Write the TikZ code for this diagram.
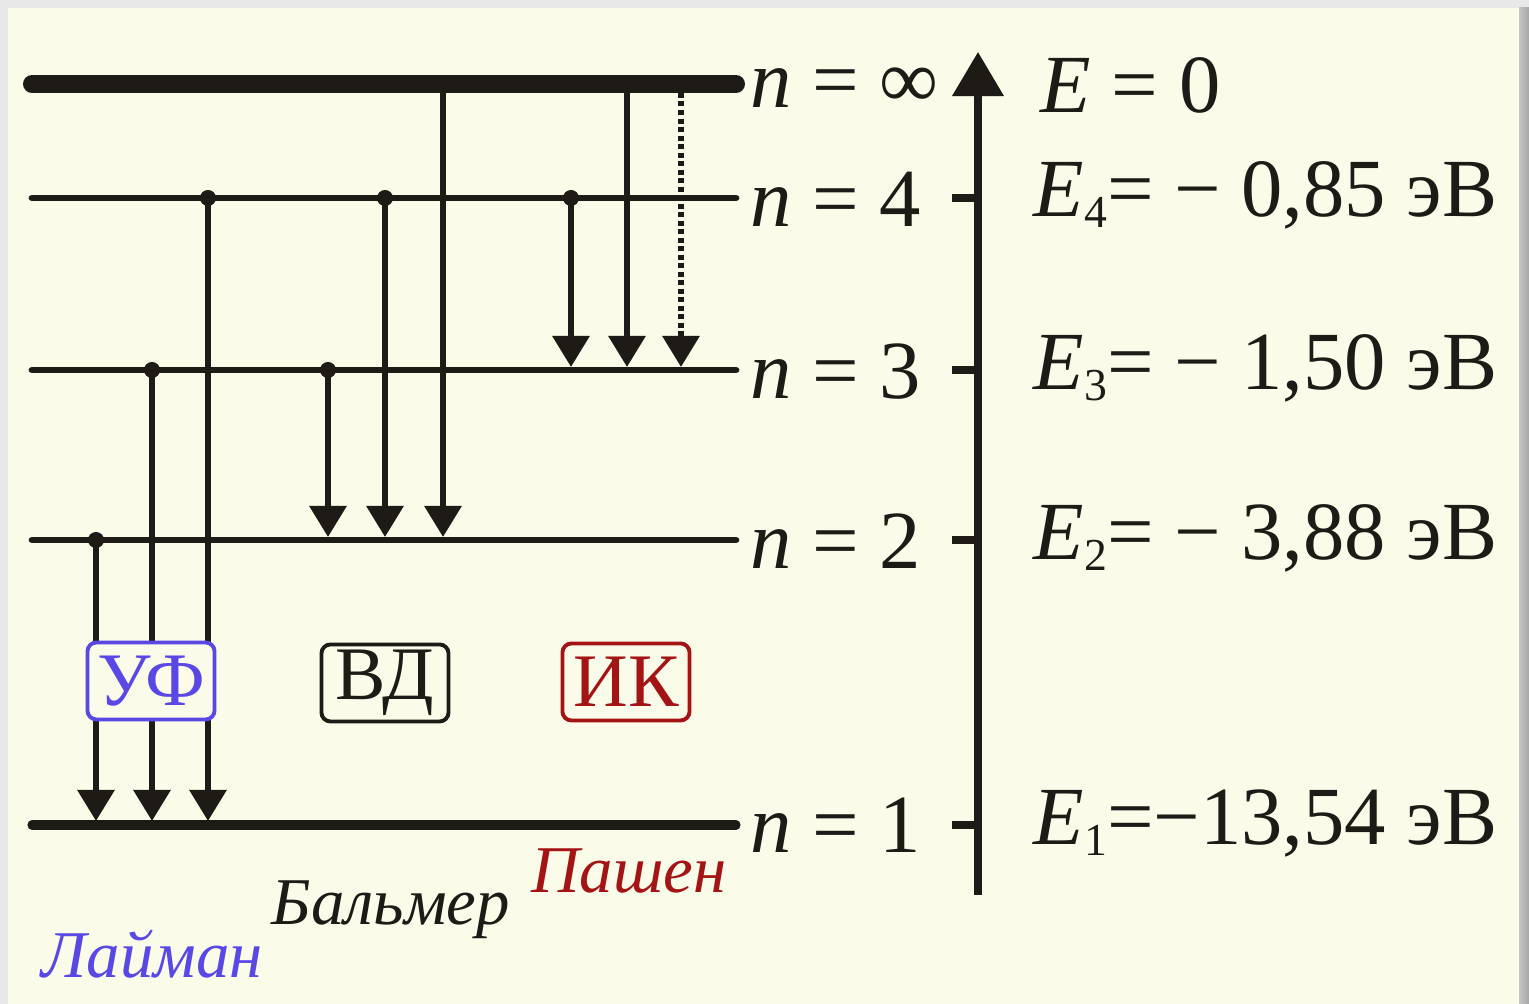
\documentclass[tikz,border=0pt]{standalone}
\usepackage{fontspec}
\setmainfont{Liberation Serif}
\usetikzlibrary{arrows.meta}
\definecolor{bg}{RGB}{250,251,233}
\definecolor{framegray}{RGB}{232,232,232}
\definecolor{ink}{RGB}{30,26,22}
\definecolor{uvblue}{RGB}{90,72,230}
\definecolor{irred}{RGB}{165,20,20}
\newcommand{\lsub}[1]{\raisebox{-0.13em}{\fontsize{13}{13}\selectfont #1}}
\begin{document}
\begin{tikzpicture}[x=0.01cm,y=-0.01cm,
  lvl/.style={line width=1.9pt,line cap=round,draw=ink},
  trans/.style={line width=1.75pt,draw=ink,-{Triangle[width=0.36cm,length=0.31cm,fill=ink]}},
  dotstart/.style={fill=ink},
  lbl/.style={font=\fontsize{23.5}{28}\selectfont,anchor=base west,inner sep=0pt,text=ink},
  series/.style={font=\fontsize{19}{22}\selectfont\itshape,anchor=base west,inner sep=0pt},
  bandbox/.style={draw,line width=1.1pt,rounded corners=0.09cm,fill=bg,minimum width=1.27cm,minimum height=0.77cm,inner sep=0pt,font=\fontsize{21.5}{24}\selectfont},
]
\fill[framegray] (0,0) rectangle (1529,1004);
\fill[bg] (8,8) rectangle (1519,1004);
\shade[left color=gray!45,right color=gray!70] (1519,8) rectangle (1529,1004);
\useasboundingbox (0,0) rectangle (1529,1004);

% levels
\coordinate (Linf-l) at (32,84);  \coordinate (Linf-r) at (736,84);
\coordinate (L4-l) at (32,198);   \coordinate (L4-r) at (736,198);
\coordinate (L3-l) at (32,370);   \coordinate (L3-r) at (736,370);
\coordinate (L2-l) at (32,540);   \coordinate (L2-r) at (736,540);
\coordinate (L1-l) at (32,825);   \coordinate (L1-r) at (736,825);
\draw[lvl,line width=5.1pt] (Linf-l) -- (Linf-r);
\draw[lvl] (L4-l) -- (L4-r);
\draw[lvl] (L3-l) -- (L3-r);
\draw[lvl] (L2-l) -- (L2-r);
\draw[lvl,line width=2.6pt] (L1-l) -- (L1-r);

% Lyman
\coordinate (ly2) at (96,540);  \coordinate (ly2e) at (96,821);
\coordinate (ly3) at (152,370); \coordinate (ly3e) at (152,821);
\coordinate (ly4) at (208,198); \coordinate (ly4e) at (208,821);
% Balmer
\coordinate (ba3) at (328,370); \coordinate (ba3e) at (328,537);
\coordinate (ba4) at (385,198); \coordinate (ba4e) at (385,537);
\coordinate (bai) at (443,84);  \coordinate (baie) at (443,537);
% Paschen
\coordinate (pa4) at (571,198); \coordinate (pa4e) at (571,367);
\coordinate (pai) at (627,84);  \coordinate (paie) at (627,367);
\coordinate (pad) at (681,93);  \coordinate (pade) at (681,367);

\draw[trans] (ly2) -- (ly2e);
\draw[trans] (ly3) -- (ly3e);
\draw[trans] (ly4) -- (ly4e);
\draw[trans] (ba3) -- (ba3e);
\draw[trans] (ba4) -- (ba4e);
\draw[trans] (bai) -- (baie);
\draw[trans] (pa4) -- (pa4e);
\draw[trans] (pai) -- (paie);
\draw[trans,dash pattern=on 0.05cm off 0.035cm] (pad) -- (pade);
\foreach \p in {ly2,ly3,ly4,ba3,ba4,pa4} \fill[dotstart] (\p) circle[radius=0.08cm];

% band boxes
\node[bandbox,draw=uvblue,text=uvblue] (uf) at (151,681) {УФ};
\node[bandbox,draw=ink,text=ink] (vd) at (385,683) {ВД};
\node[bandbox,draw=irred,text=irred] (ik) at (626,682) {ИК};

% level labels
\node[lbl] (ninf) at (750,108) {\textit{n} = ∞};
\node[lbl] (n4) at (750,227) {\textit{n} = 4};
\node[lbl] (n3) at (750,399) {\textit{n} = 3};
\node[lbl] (n2) at (750,569) {\textit{n} = 2};
\node[lbl] (n1) at (750,853) {\textit{n} = 1};

% energy axis
\coordinate (axb) at (978,895); \coordinate (axt) at (978,52);
\draw[line width=2pt,draw=ink,-{Triangle[width=0.5cm,length=0.44cm,fill=ink]}] (axb) -- (axt);
\foreach \yy/\nm in {198/t4,370/t3,540/t2,825/t1}{
  \coordinate (\nm) at (952,\yy);
  \coordinate (\nm a) at (978,\yy);
  \draw[line width=2pt,draw=ink] (\nm) -- (\nm a);
}

% energy labels
\node[lbl] (e0) at (1040,113) {\textit{E} = 0};
\node[lbl] (e4) at (1033,217) {\textit{E}\lsub{4}= − 0,85 эВ};
\node[lbl] (e3) at (1033,390) {\textit{E}\lsub{3}= − 1,50 эВ};
\node[lbl] (e2) at (1033,560) {\textit{E}\lsub{2}= − 3,88 эВ};
\node[lbl] (e1) at (1033,845) {\textit{E}\lsub{1}=−13,54 эВ};

% series names
\node[series,text=uvblue] (lyman) at (41,978) {Лайман};
\node[series,text=ink] (balmer) at (271,925) {Бальмер};
\node[series,text=irred] (paschen) at (531,893) {Пашен};
\end{tikzpicture}
\end{document}
